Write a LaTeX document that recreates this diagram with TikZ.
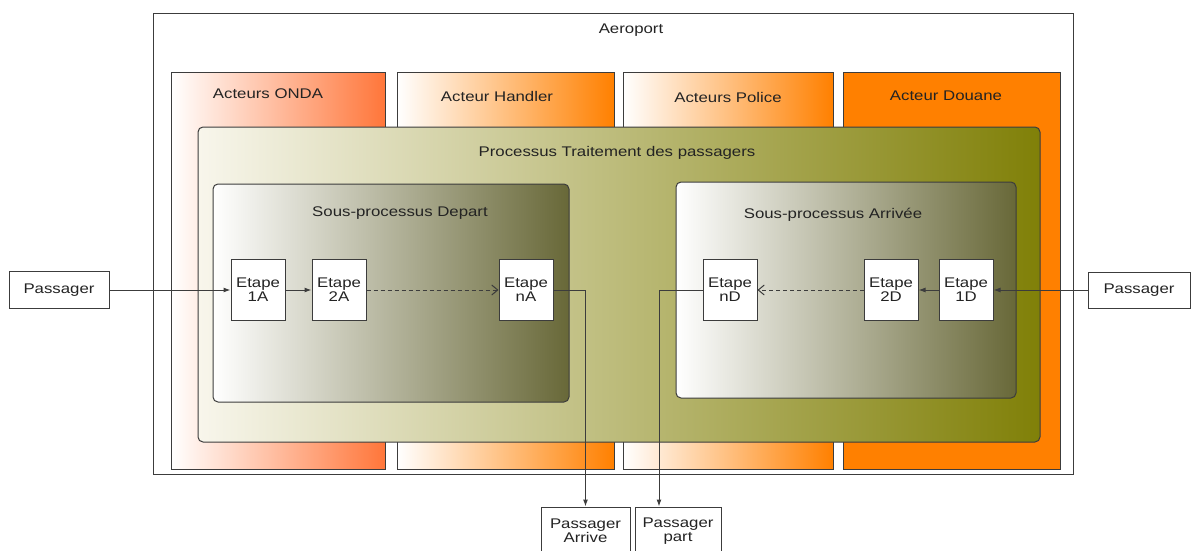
\documentclass[tikz,border=0pt]{standalone}
\usepackage{fontspec}
\setmainfont{Liberation Sans}[FakeStretch=1.2]
\usetikzlibrary{arrows,arrows.meta,positioning,calc}
\definecolor{ondaorange}{RGB}{255,118,58}
\definecolor{actorange}{RGB}{255,128,0}
\definecolor{proccream}{RGB}{248,246,236}
\definecolor{procolive}{RGB}{128,128,8}
\definecolor{subdark}{RGB}{104,104,56}
\definecolor{edgegray}{RGB}{60,60,60}
\definecolor{textgray}{RGB}{35,35,35}

\begin{document}
\begin{tikzpicture}[
    x=1pt,y=-1pt,>={Latex[length=7pt,width=5pt]},
    font=\fontsize{14}{14}\selectfont,text=textgray,
    box/.style={rectangle,draw=edgegray,line width=1pt,inner sep=0pt},
    actor/.style={box,minimum height=396pt},
    proc/.style={box,rounded corners=5pt},
    etape/.style={box,fill=white,minimum width=54pt,minimum height=61pt,align=center},
    pass/.style={box,fill=white,align=center},
    title/.style={inner sep=0pt},
    link/.style={draw=edgegray,line width=1pt}]
    \useasboundingbox (0,0) rectangle (1195,551);

    % containers
    \node[box,fill=white,minimum width=920pt,minimum height=460pt] (AER) at (613,244) {};
    \node[actor,minimum width=214pt,left color=white,right color=ondaorange] (ONDA) at (278,271) {};
    \node[actor,minimum width=217pt,left color=white,right color=actorange] (HAND) at (505.5,271) {};
    \node[actor,minimum width=210pt,left color=white,right color=actorange] (POL) at (728,271) {};
    \node[actor,minimum width=217pt,fill=actorange] (DOU) at (951.5,271) {};
    \node[proc,minimum width=842pt,minimum height=315pt,left color=proccream,right color=procolive] (PROC) at (619,284.5) {};
    \node[proc,minimum width=356pt,minimum height=218pt,left color=white,right color=subdark] (DEP) at (391,293) {};
    \node[proc,minimum width=340pt,minimum height=216pt,left color=white,right color=subdark] (ARR) at (846,290) {};

    % titles
    \node[title] (tAER) at (631,30) {Aeroport};
    \node[title] (tONDA) at (268,94) {Acteurs ONDA};
    \node[title] (tHAND) at (497,96) {Acteur Handler};
    \node[title] (tPOL) at (728,97) {Acteurs Police};
    \node[title] (tDOU) at (946,96) {Acteur Douane};
    \node[title] (tPROC) at (617,153) {Processus Traitement des passagers};
    \node[title] (tDEP) at (400,213) {Sous-processus Depart};
    \node[title] (tARR) at (833,215) {Sous-processus Arrivée};

    % etapes
    \node[etape] (E1A) at (258,290) {Etape\\1A};
    \node[etape] (E2A) [right=26pt of E1A] {Etape\\2A};
    \node[etape] (EnA) [right=132pt of E2A] {Etape\\nA};
    \node[etape] (E1D) at (966,290) {Etape\\1D};
    \node[etape] (E2D) [left=20pt of E1D] {Etape\\2D};
    \node[etape] (EnD) [left=106pt of E2D] {Etape\\nD};

    % passagers
    \node[pass,minimum width=100pt,minimum height=37pt] (PL) [left=121pt of E1A] {Passager};
    \node[pass,minimum width=102pt,minimum height=36pt] (PR) [right=94pt of E1D] {Passager};
    \node[pass,minimum width=89pt,minimum height=48pt] (PA) at (585.5,531) {Passager\\Arrive};
    \node[pass,minimum width=86pt,minimum height=48pt] (PP) at (678,531) {Passager\\part};
    \coordinate (kD) at (659,290);

    \draw[link,->] (PL) -- (E1A);
    \draw[link,->] (E1A) -- (E2A);
    \draw[link,>={Straight Barb[length=6pt,width=10pt]},style={->},dash pattern=on 4pt off 3pt] (E2A) -- (EnA);
    \draw[link,->] (EnA.east) -| (PA.north);
    \draw[link,->] (PR) -- (E1D);
    \draw[link,->] (E1D) -- (E2D);
    \draw[link,>={Straight Barb[length=6pt,width=10pt]},style={->},dash pattern=on 4pt off 3pt] (E2D) -- (EnD);
    \draw[link,->] (EnD.west) -- (kD) -- (kD |- PP.north);
\end{tikzpicture}
\end{document}
